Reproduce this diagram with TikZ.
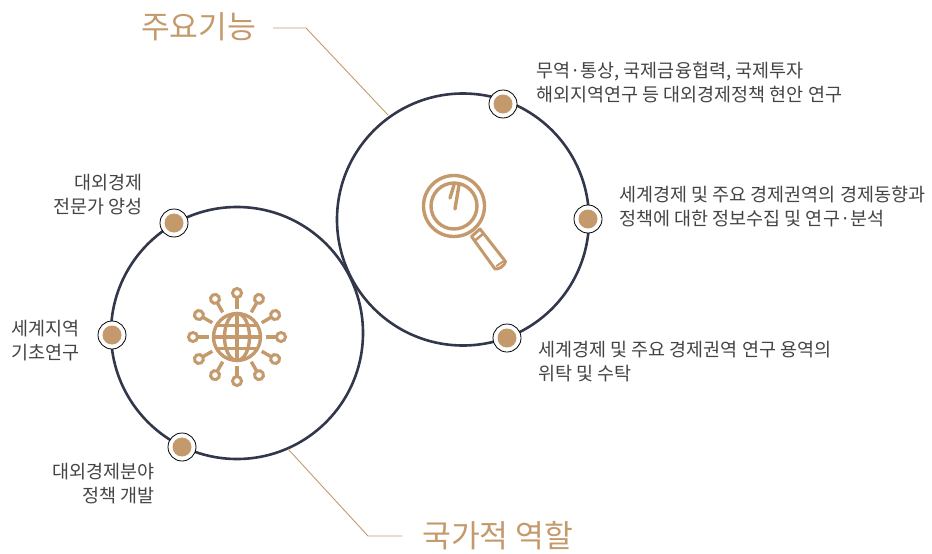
\documentclass[tikz,border=0pt]{standalone}
\usepackage{fontspec}
\setmainfont{Noto Sans CJK KR}[Scale=1]
\usepackage{xcolor}
\definecolor{tan}{HTML}{C49A6C}
\definecolor{ring}{HTML}{33374B}
\definecolor{txt}{HTML}{444444}
\tikzset{
  dotmark/.style={circle,draw=black,thick,fill=white,minimum size=28pt,inner sep=0pt,path picture={\fill[tan] (path picture bounding box.center) circle (9.5);}},
  lbl/.style={text=txt,font=\fontsize{18.5}{24}\selectfont,inner sep=0pt,align=left,anchor=west},
  lblr/.style={lbl,align=right,anchor=east},
  ttl/.style={text=tan,font=\fontsize{31.3}{34}\selectfont,inner sep=0pt,anchor=west},
  leader/.style={draw=tan,line width=.9pt},
}
\begin{document}
\begin{tikzpicture}[x=1pt,y=-1pt]
\useasboundingbox (0,0) rectangle (932,554);
\draw[ring,line width=2.6pt] (463,219.5) circle (126);
\draw[ring,line width=2.6pt] (237,333) circle (126);
% markers
\node[dotmark] (m1) at (503,104) {};
\node[dotmark] (m2) at (588,219) {};
\node[dotmark] (m3) at (507,338) {};
\node[dotmark] (m4) at (174,223) {};
\node[dotmark] (m5) at (112,335) {};
\node[dotmark] (m6) at (182,447) {};
% titles
\node[ttl] (func) at (141,27) {주요기능};
\node[ttl] (role) at (422,536) {국가적 역할};
\coordinate (fa) at (273,28);
\coordinate (fb) at (306,28);
\coordinate (fc) at (388,115);
\coordinate (ra) at (288,449);
\coordinate (rb) at (368,536);
\coordinate (rc) at (402,536);
\draw[leader] (fa) -- (fb) -- (fc);
\draw[leader] (ra) -- (rb) -- (rc);
% labels
\node[lbl] (t1) at (536,82.5) {무역·통상, 국제금융협력, 국제투자\\해외지역연구 등 대외경제정책 현안 연구};
\node[lbl] (t2) at (619,207) {세계경제 및 주요 경제권역의 경제동향과\\정책에 대한 정보수집 및 연구·분석};
\node[lbl] (t3) at (538,362) {세계경제 및 주요 경제권역 연구 용역의\\위탁 및 수탁};
\node[lblr] (t4) at (142.5,195) {대외경제\\전문가 양성};
\node[lblr] (t5) at (79.5,341) {세계지역\\기초연구};
\node[lblr] (t6) at (155,484) {대외경제분야\\정책 개발};
% magnifier
\begin{scope}[draw=tan,line width=3.4pt,line cap=round]
\draw (454,206) circle (30.5);
\draw (454,206) circle (23);
\draw (454,185) -- (450,198);
\draw (459,185) -- (455,209);
\draw[line width=3pt,line join=round] (471.5,236.5) -- (480,229) -- (505.5,261.5) .. controls (504.5,266) and (499,269.5) .. (495,269) -- cycle;
\draw[line width=2.6pt] (475,240.5) -- (483.5,233.5);
\draw[line width=2pt] (496.5,266) -- (503,261.5);
\end{scope}
% globe
\begin{scope}[shift={(237,337)},draw=tan,line width=3.4pt]
\draw (0,0) circle (23.5);
\draw (0,-23.5) -- (0,23.5);
\draw (-23.5,0) -- (23.5,0);
\draw (0,0) ellipse (12.5 and 23.5);
\draw (-20,-11.5) -- (20,-11.5);
\draw (-20,11.5) -- (20,11.5);
\foreach \a in {0,30,...,330}{
  \draw[rotate=\a] (28.5,0) -- (39,0);
  \draw[rotate=\a,line width=3pt,fill=white] (44,0) circle (4.5);
}
\end{scope}
\end{tikzpicture}
\end{document}
